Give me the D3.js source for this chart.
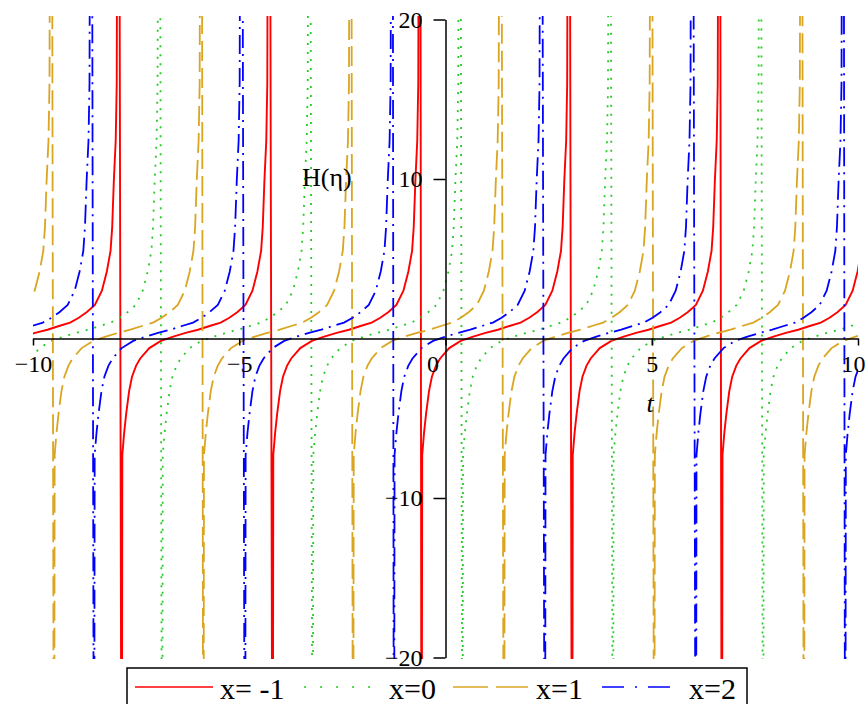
<!DOCTYPE html>
<html><head><meta charset="utf-8">
<script src="https://cdn.jsdelivr.net/npm/d3@7"></script>
<style>
body{margin:0;background:#fff;}
svg{display:block;}
text{font-family:"Liberation Serif",serif !important;fill:#000;}
</style>
</head><body>
<svg id="chart" width="867" height="704"></svg>
<script>
// ---- data ----
const seriesLabels = ["x= -1", "x=0", "x=1", "x=2"];
// t positions of the vertical jumps (asymptotes) of each curve
const asymRed    = [-11.55, -7.90, -4.24, -0.63, 3.02, 6.65];
const asymGreen  = [-10.56, -6.92, -3.27, 0.36, 4.01, 7.65];
const asymOrange = [-13.18, -9.54, -5.92, -2.29, 1.37, 5.01, 8.64];
const asymBlue   = [-12.21, -8.57, -4.91, -1.30, 2.36, 6.02, 9.64];
// shape of one branch: offset in t after a jump, and H value
const branchDt = [0.05, 0.065, 0.11, 0.16, 0.23, 0.30, 0.40, 0.50, 0.72, 1.00, 1.30, 1.60, 1.90, 2.20, 2.45, 2.66, 2.85, 3.05, 3.22, 3.34, 3.43, 3.47, 3.51, 3.555, 3.58, 3.62];
const branchH  = [-40, -7.3, -5.9, -4.7, -3.3, -2.4, -1.7, -1.25, -0.6, -0.15, 0.12, 0.35, 0.55, 0.8, 1.0, 1.3, 1.65, 2.1, 3.0, 4.2, 5.5, 7.0, 9.9, 12.4, 16, 60];
const xTickLabels = [-10, -5, 0, 5, 10];
const xMinorTicks = d3.range(-10, 11, 1);
const yTickLabels = [-20, -10, 10, 20];
const yMinorTicks = [-20, -15, -10, -5, 5, 10, 15, 20];

const svg = d3.select("#chart");
const x = d3.scaleLinear().domain([-10, 10]).range([33, 858]);
const y = d3.scaleLinear().domain([-20, 20]).range([657.5, 19.5]);

const styles = [
  {color:"#ff0000", dash:null, legDash:null, w:1.9},
  {color:"#22cc22", dash:"2,7", legDash:"2,14", w:1.8},
  {color:"#daa520", dash:"20,7", legDash:"35,8", w:1.8},
  {color:"#0000ff", dash:"19,6,2,6", legDash:"22,11,2,11", w:1.8}
];
const asyms = [asymRed, asymGreen, asymOrange, asymBlue];

svg.append("defs").append("clipPath").attr("id","clip")
  .append("rect").attr("x",33).attr("y",16).attr("width",825).attr("height",643);

const line = d3.line().x(d => x(d[0])).y(d => y(d[1]));
const plot = svg.append("g").attr("clip-path","url(#clip)");

asyms.forEach((as, si) => {
  const pts = as.flatMap(a => branchDt.map((d, i) => [a + d, branchH[i]]));
  plot.append("path").datum(pts)
    .attr("d", line)
    .attr("fill","none")
    .attr("stroke", styles[si].color)
    .attr("stroke-width", styles[si].w)
    .attr("stroke-dasharray", styles[si].dash);
});

const serif = "font-family:'Liberation Serif',serif";

// axes
const x0 = x(0), y0 = y(0);
const gx = svg.append("g").attr("transform", `translate(0,${y0})`);
gx.call(d3.axisBottom(x).tickValues(xMinorTicks).tickSize(4).tickSizeOuter(0).tickFormat(""));
gx.call(d3.axisBottom(x).tickValues(xTickLabels).tickSize(7).tickSizeOuter(0).tickPadding(9));
gx.attr("font-family", null);
gx.selectAll("path,line").attr("stroke","#000").attr("stroke-width",1.5);
gx.selectAll("text").attr("font-size",24).attr("style", serif).attr("fill","#000");
gx.selectAll(".tick").filter(d => d === 0).select("text").attr("dx", -13);
gx.selectAll(".tick").filter(d => d === 10).select("text").attr("dx", -5);

const gy = svg.append("g").attr("transform", `translate(${x0},0)`);
gy.call(d3.axisLeft(y).tickValues(yMinorTicks).tickSize(5).tickSizeOuter(0).tickFormat(""));
gy.call(d3.axisLeft(y).tickValues(yTickLabels).tickSize(12).tickSizeOuter(0).tickPadding(11));
gy.attr("font-family", null);
gy.selectAll("path,line").attr("stroke","#000").attr("stroke-width",1.5);
gy.selectAll("text").attr("font-size",24).attr("style", serif).attr("fill","#000");

svg.append("text").attr("x",302).attr("y",186).attr("font-size",26).attr("style", serif).text("H(η)");
svg.append("text").attr("x",650).attr("y",412).attr("font-size",26).attr("font-style","italic")
  .attr("style", serif).attr("text-anchor","middle").text("t");

// legend
const leg = svg.append("g");
leg.append("rect").attr("x",127).attr("y",668).attr("width",620).attr("height",50)
  .attr("fill","#fff").attr("stroke","#000").attr("stroke-width",1.5);
const legLines = [[135,213],[304,370],[453,528],[602,673]];
const legText = [220,389,536,689];
seriesLabels.forEach((lab, i) => {
  leg.append("line").attr("x1",legLines[i][0]).attr("x2",legLines[i][1])
    .attr("y1",687).attr("y2",687)
    .attr("stroke",styles[i].color).attr("stroke-width",1.5)
    .attr("stroke-dasharray",styles[i].legDash);
  leg.append("text").attr("x",legText[i]).attr("y",699).attr("font-size",30).attr("style", serif).text(lab);
});
</script>
</body></html>
